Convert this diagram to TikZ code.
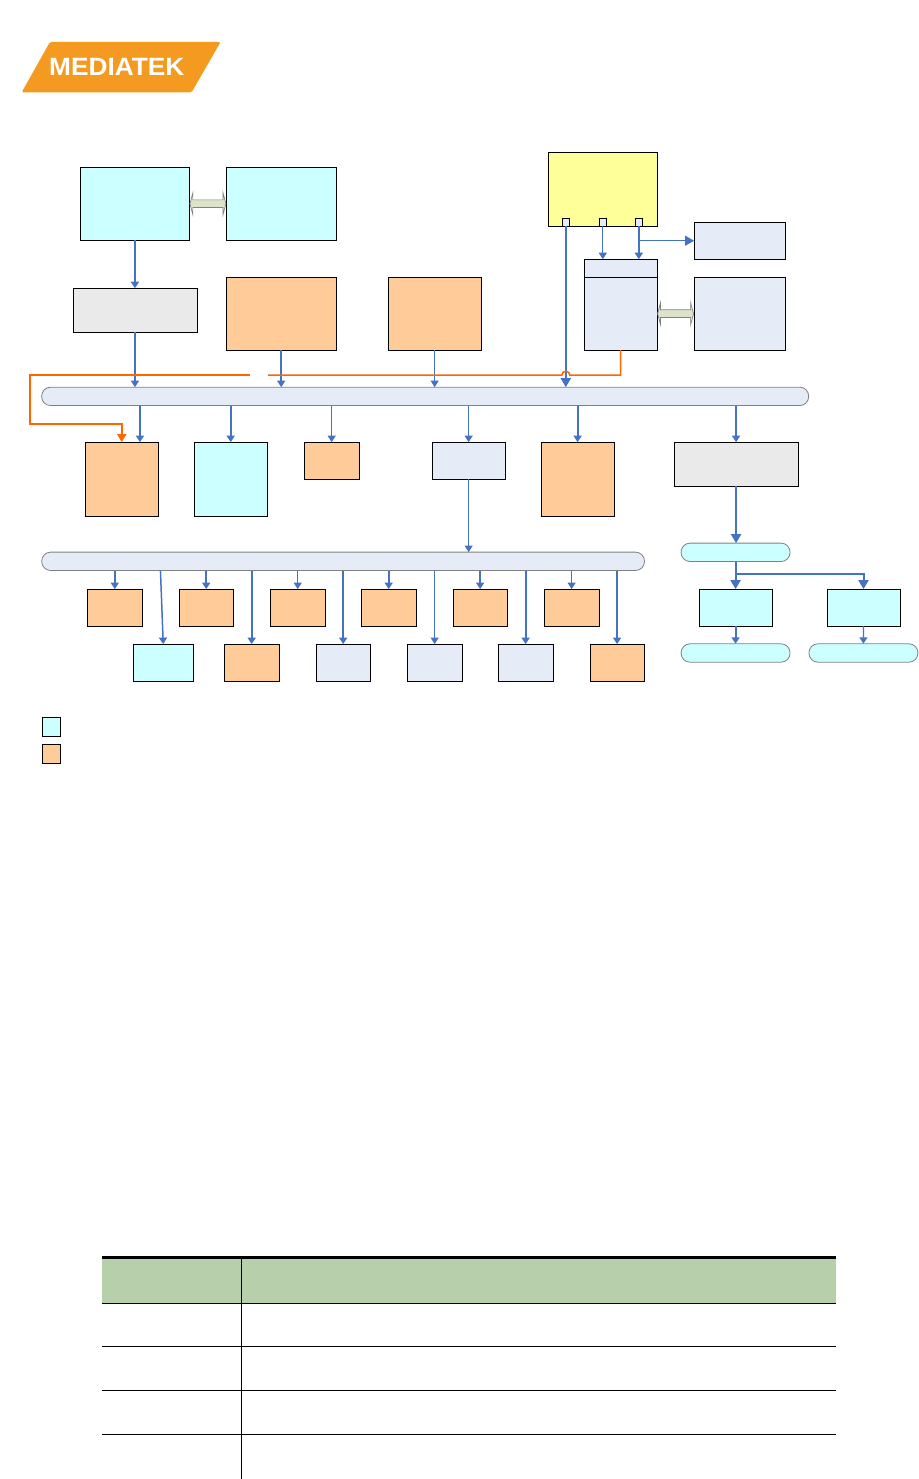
\documentclass[tikz,border=0pt]{standalone}
\usepackage{fontspec}
\usetikzlibrary{positioning, shapes.arrows, arrows.meta, calc}
\newfontfamily\logofont[FakeStretch=1.05]{Liberation Sans}
\definecolor{busblue}{HTML}{E6ECF7}
\definecolor{linkblue}{HTML}{4472C4}
\definecolor{paleorange}{HTML}{FFCC99}
\definecolor{palecyan}{HTML}{CCFFFF}
\definecolor{paleyellow}{HTML}{FFFF99}
\definecolor{palegray}{HTML}{EAEAEA}
\definecolor{wireorange}{HTML}{FF6600}
\definecolor{logoorange}{HTML}{F49A20}
\definecolor{linkolive}{HTML}{DDE3CB}
\definecolor{headgreen}{HTML}{B7CFAB}

\begin{document}
\begin{tikzpicture}[
		x=1pt, y=-1pt,
		% --- STYLES ---
		block/.style={
			rectangle, draw=black, line width=1pt, inner sep=0pt, outer sep=0pt
		},
		cyanblock/.style={block, fill=palecyan},
		orangeblock/.style={block, fill=paleorange},
		blueblock/.style={block, fill=busblue},
		grayblock/.style={block, fill=palegray},
		busbar/.style={
			rectangle, rounded corners=9pt, draw=gray, line width=0.8pt, fill=busblue,
			minimum height=18.4pt, inner sep=0pt, outer sep=0pt
		},
		pill/.style={
			busbar, fill=palecyan, minimum width=109pt
		},
		line/.style={
			draw=linkblue, line width=2pt, -{Triangle[length=6.5pt,width=8pt]}
		},
		thinline/.style={
			draw=linkblue, line width=1.1pt, -{Triangle[length=6.5pt,width=8pt]}
		},
		bigline/.style={
			draw=linkblue, line width=2pt, -{Triangle[length=9pt,width=10pt]}
		},
		wire/.style={
			draw=wireorange, line width=1.5pt, line join=miter
		},
		dualarrow/.style={
			double arrow, draw=gray, fill=linkolive, line width=0.7pt, inner sep=3.5pt,
			minimum width=14pt, minimum height=36pt, double arrow tip angle=150, outer sep=0pt
		}
		]
		
		% ==========================================
		% 1. Logo
		% ==========================================
		\fill [logoorange, rounded corners=1.5pt] (21.7,92.3) -- (50,42) -- (220.7,42) -- (191.7,92.3) -- cycle;
		\node [text=white, font=\logofont\bfseries\fontsize{25}{25}\selectfont, inner sep=0pt] (logo_text) at (116.8,66.7) {MEDIATEK};
		
		% ==========================================
		% 2. Top row of blocks
		% ==========================================
		\node [cyanblock, minimum width=109.4pt, minimum height=73pt] (cyan_a) at (135,203.8) {};
		\node [cyanblock, minimum width=110pt, minimum height=73pt, right=36.6pt of cyan_a] (cyan_b) {};
		\node [dualarrow] (dual_a) at ($(cyan_a.east)!0.5!(cyan_b.west)$) {};
		
		\node [grayblock, minimum width=124pt, minimum height=44pt] (gray_a) at (135.3,310.3) {};
		\node [orangeblock, minimum width=110pt, minimum height=73pt] (orange_c) at (281.3,313.8) {};
		\node [orangeblock, minimum width=93pt, minimum height=73pt, right=52pt of orange_c] (orange_d) {};
		
		\node [block, fill=paleyellow, minimum width=109pt, minimum height=74pt] (yellow_top) at (602.8,189.3) {};
		\node [blueblock, minimum width=7.4pt, minimum height=8pt] (port_a) at (566,222.3) {};
		\node [blueblock, minimum width=7.4pt, minimum height=8pt] (port_b) at (603,222.3) {};
		\node [blueblock, minimum width=7.4pt, minimum height=8pt] (port_c) at (639,222.3) {};
		
		\node [blueblock, minimum width=73pt, minimum height=18pt] (head_e) at (620.8,268.3) {};
		\node [blueblock, minimum width=73pt, minimum height=73pt, below=0pt of head_e] (body_e) {};
		\node [blueblock, minimum width=91pt, minimum height=37pt] (blue_side) at (739.8,240.8) {};
		\node [blueblock, minimum width=91pt, minimum height=73pt, right=37pt of body_e] (blue_large) {};
		\node [dualarrow] (dual_b) at ($(body_e.east)!0.5!(blue_large.west)$) {};
		
		% ==========================================
		% 3. Buses
		% ==========================================
		\node [busbar, minimum width=767.3pt] (bus_main) at (425.3,396.5) {};
		\node [busbar, minimum width=603pt] (bus_low) at (343.2,561.5) {};
		
		% --- Links into the main bus ---
		\draw [line] (cyan_a.south) -- (gray_a.north -| cyan_a.south);
		\draw [line] (cyan_a.south |- gray_a.south) -- (cyan_a.south |- bus_main.north);
		\draw [line] (orange_c.south) -- (orange_c.south |- bus_main.north);
		\draw [thinline] (orange_d.south) -- (orange_d.south |- bus_main.north);
		\draw [bigline] (port_a.south) -- (port_a.south |- bus_main.north);
		
		\draw [thinline] (port_b.south) -- (port_b.south |- head_e.north);
		\draw [line] (port_c.south) -- (port_c.south |- head_e.north);
		\coordinate (tap_c) at (port_c.south |- blue_side.west);
		\draw [draw=linkblue, line width=1.1pt, -{Triangle[length=9pt,width=10pt]}] (tap_c) -- (blue_side.west);
		
		% ==========================================
		% 4. Row under the main bus
		% ==========================================
		\node [orangeblock, minimum width=73pt, minimum height=74pt] (orange_e) at (121.8,479.3) {};
		\node [cyanblock, minimum width=73pt, minimum height=74pt, right=36pt of orange_e] (cyan_f) {};
		\node [orangeblock, minimum width=55pt, minimum height=37pt] (orange_g) at (331.8,460.8) {};
		\node [blueblock, minimum width=73pt, minimum height=37pt] (blue_h) at (468.8,460.8) {};
		\node [orangeblock, minimum width=73pt, minimum height=74pt] (orange_i) at (577.8,479.3) {};
		\node [grayblock, minimum width=124pt, minimum height=44pt] (gray_j) at (736.3,464.3) {};
		
		\coordinate (in_e) at ($(orange_e.north)+(18.2,0)$);
		\draw [line] (in_e |- bus_main.south) -- (in_e);
		\draw [line] (cyan_f.north |- bus_main.south) -- (cyan_f.north);
		\draw [thinline] (orange_g.north |- bus_main.south) -- (orange_g.north);
		\draw [thinline] (blue_h.north |- bus_main.south) -- (blue_h.north);
		\draw [line] (orange_i.north |- bus_main.south) -- (orange_i.north);
		\draw [line] (gray_j.north |- bus_main.south) -- (gray_j.north);
		\draw [thinline] (blue_h.south) -- (blue_h.south |- bus_low.north);
		
		% --- Orange wire with its hop over the port link ---
		\coordinate (hop_right) at ($(port_a.south |- 0,375.3)+(4,0)$);
		\coordinate (wire_gap_a) at (268,375.3);
		\coordinate (wire_gap_b) at (250,375.3);
		\coordinate (wire_left) at (30,375.3);
		\coordinate (wire_down) at (30,424.3);
		\draw [wire] (body_e.south) |- (hop_right) arc [start angle=0, end angle=180, radius=4pt] -- (wire_gap_a);
		\draw [wire, -{Triangle[length=8pt,width=9pt]}] (wire_gap_b) -- (wire_left) -- (wire_down) -| (orange_e.north);
		
		% ==========================================
		% 5. Rows under the low bus
		% ==========================================
		\node [orangeblock, minimum width=55pt, minimum height=37pt] (low_a) at (114.8,607.8) {};
		\node [orangeblock, minimum width=54pt, minimum height=37pt, right=37pt of low_a] (low_b) {};
		\node [orangeblock, minimum width=55pt, minimum height=37pt, right=37pt of low_b] (low_c) {};
		\node [orangeblock, minimum width=55pt, minimum height=37pt, right=36pt of low_c] (low_d) {};
		\node [orangeblock, minimum width=54pt, minimum height=37pt, right=37pt of low_d] (low_e) {};
		\node [orangeblock, minimum width=55pt, minimum height=37pt, right=37pt of low_e] (low_f) {};
		
		\node [cyanblock, minimum width=60pt, minimum height=37pt] (sub_a) at (163.3,662.8) {};
		\node [orangeblock, minimum width=55pt, minimum height=37pt] (sub_b) at (251.8,662.8) {};
		\node [blueblock, minimum width=54pt, minimum height=37pt] (sub_c) at (343.3,662.8) {};
		\node [blueblock, minimum width=55pt, minimum height=37pt] (sub_d) at (434.8,662.8) {};
		\node [blueblock, minimum width=55pt, minimum height=37pt] (sub_e) at (525.8,662.8) {};
		\node [orangeblock, minimum width=54pt, minimum height=37pt] (sub_f) at (617.3,662.8) {};
		
		\draw [line] (low_a.north |- bus_low.south) -- (low_a.north);
		\draw [line] (low_b.north |- bus_low.south) -- (low_b.north);
		\draw [thinline] (low_c.north |- bus_low.south) -- (low_c.north);
		\draw [line] (low_d.north |- bus_low.south) -- (low_d.north);
		\draw [line] (low_e.north |- bus_low.south) -- (low_e.north);
		\draw [thinline] (low_f.north |- bus_low.south) -- (low_f.north);
		
		\coordinate (slant_top) at ($(sub_a.north |- bus_low.south)+(-2.8,0)$);
		\draw [line, line width=1.5pt] (slant_top) -- (sub_a.north);
		\draw [line] (sub_b.north |- bus_low.south) -- (sub_b.north);
		\draw [line] (sub_c.north |- bus_low.south) -- (sub_c.north);
		\draw [thinline] (sub_d.north |- bus_low.south) -- (sub_d.north);
		\draw [line] (sub_e.north |- bus_low.south) -- (sub_e.north);
		\draw [line] (sub_f.north |- bus_low.south) -- (sub_f.north);
		
		% ==========================================
		% 6. Right branch
		% ==========================================
		\node [pill] (pill_top) at (735.8,552.5) {};
		\node [cyanblock, minimum width=73pt, minimum height=37pt] (cyan_j) at (735.8,607.8) {};
		\node [cyanblock, minimum width=73pt, minimum height=37pt, right=55pt of cyan_j] (cyan_k) {};
		\node [pill] (pill_left) at (735.8,653.2) {};
		\node [pill] (pill_right) at (863.7,653.2) {};
		
		\draw [bigline] (gray_j.south) -- (gray_j.south |- pill_top.north);
		\draw [bigline] (pill_top.south) -- (cyan_j.north);
		\coordinate (tap_j) at (pill_top.south |- 0,573.7);
		\draw [bigline] (tap_j) -| (cyan_k.north);
		\draw [line] (cyan_j.south) -- (pill_left.north);
		\draw [thinline] (cyan_k.south) -- (pill_right.north);
		
		% ==========================================
		% 7. Legend
		% ==========================================
		\node [cyanblock, minimum width=18.4pt, minimum height=19pt] (key_cyan) at (51.5,726.8) {};
		\node [orangeblock, minimum width=18.4pt, minimum height=19pt, below=8pt of key_cyan] (key_orange) {};
		
		% ==========================================
		% 8. Table
		% ==========================================
		\fill [headgreen] (102,1258) rectangle (836,1303.5);
		\draw [line width=3pt] (102,1258.2) -- (836,1258.2);
		\draw [line width=1pt] (102,1303.5) -- (836,1303.5);
		\draw [line width=1pt] (102,1346.5) -- (836,1346.5);
		\draw [line width=1pt] (102,1390.5) -- (836,1390.5);
		\draw [line width=1pt] (102,1434.5) -- (836,1434.5);
		\draw [line width=1pt] (241.3,1259) -- (241.3,1479);
		
		\useasboundingbox (0,0) rectangle (919,1479);
	\end{tikzpicture}
\end{document}
